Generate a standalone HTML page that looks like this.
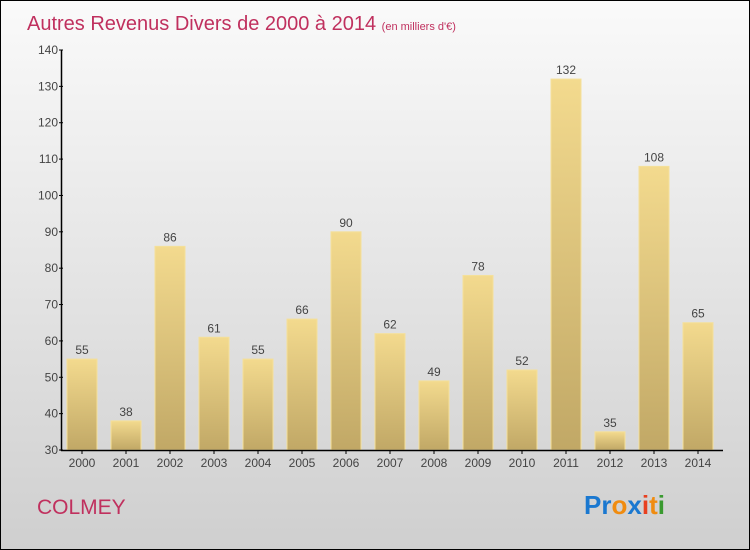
<!DOCTYPE html>
<html><head><meta charset="utf-8"><style>
body{margin:0}
#c{position:relative;width:748px;height:548px;border:1px solid #000;background:linear-gradient(#fafafa,#cfcfcf);font-family:"Liberation Sans",sans-serif;overflow:hidden}
</style></head><body>
<div id="c">
<svg width="748" height="548" id="svg">
<defs><linearGradient id="bg" x1="0" y1="0" x2="0" y2="1"><stop offset="0" stop-color="#f3da8e"/><stop offset="1" stop-color="#c1a866"/></linearGradient></defs>
<text x="26" y="29" font-size="20" fill="#c0305e">Autres Revenus Divers de 2000 à 2014 <tspan font-size="11">(en milliers d'€)</tspan></text>
<g id="g"></g>
<text x="36" y="513" font-size="21" fill="#c0305e">COLMEY</text>
<text x="583" y="513" font-size="26" font-weight="bold"><tspan fill="#1a78d0">Pr</tspan><tspan fill="#f08c10">o</tspan><tspan fill="#1a78d0">x</tspan><tspan fill="#e84020">i</tspan><tspan fill="#f08c10">t</tspan><tspan fill="#3a9a30">i</tspan></text>
</svg></div>
<script>
const years=["2000","2001","2002","2003","2004","2005","2006","2007","2008","2009","2010","2011","2012","2013","2014"];
const values=[55,38,86,61,55,66,90,62,49,78,52,132,35,108,65];
const ticks=[30,40,50,60,70,80,90,100,110,120,130,140];
const NS="http://www.w3.org/2000/svg";
const g=document.getElementById('g');
const y=v=>449-(v-30)*400/110;
const x=i=>81+i*44;
function el(t,a,txt){const e=document.createElementNS(NS,t);for(const k in a)e.setAttribute(k,a[k]);if(txt!=null)e.textContent=txt;g.appendChild(e);return e;}
values.forEach((v,i)=>{
 const r=el('rect',{x:x(i)-15,y:y(v),width:30,height:449-y(v),fill:'url(#bg)',stroke:'#f5e09a','stroke-width':1});
 
 
 const t=el('text',{x:x(i),y:y(v)-5,'font-size':12,fill:'#444','text-anchor':'middle'},v);
 
 
 const l=el('text',{x:x(i),y:466,'font-size':12,fill:'#444','text-anchor':'middle'},years[i]);
 
 
 el('line',{x1:x(i),x2:x(i),y1:449,y2:453,stroke:'#000'});
});
ticks.forEach(v=>{
 el('line',{x1:58,x2:62,y1:y(v),y2:y(v),stroke:'#000'});
 const t=el('text',{x:57,y:y(v)+4,'font-size':12,fill:'#444','text-anchor':'end'},v);
 
 
});
const ya=el('line',{x1:60.5,x2:60.5,y1:y(140),y2:450,stroke:'#000','stroke-width':1.5});


const xa=el('line',{x1:60,x2:722,y1:449.5,y2:449.5,stroke:'#000','stroke-width':1.5});


</script>
</body></html>
